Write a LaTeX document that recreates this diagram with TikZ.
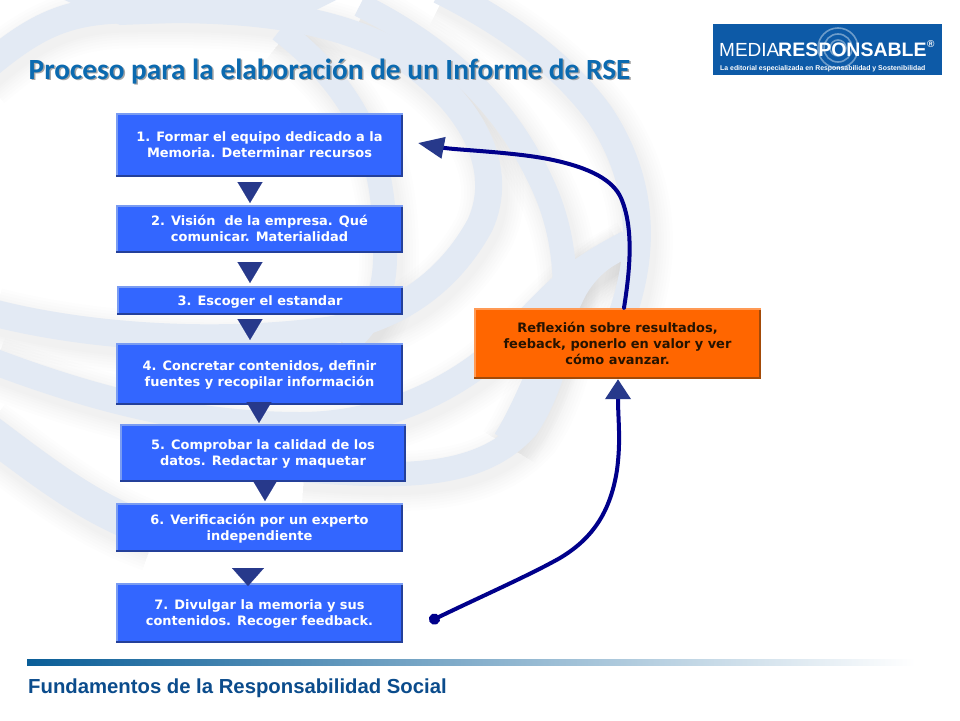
\documentclass[tikz,border=0pt]{standalone}
\usepackage{fontspec}
\setmainfont{DejaVu Sans}
\newfontfamily\titlefont{Carlito}
\newfontfamily\footfont{Liberation Sans}
\usetikzlibrary{arrows.meta,calc}
\definecolor{bandc}{HTML}{E3EAF4}
\definecolor{boxblue}{HTML}{3366FF}
\definecolor{boxlight}{HTML}{7A9CF2}
\definecolor{boxdark}{HTML}{24409A}
\definecolor{boxor}{HTML}{FF6600}
\definecolor{orlight}{HTML}{FF9A55}
\definecolor{ordark}{HTML}{A34A08}
\definecolor{tipc}{HTML}{27398B}
\definecolor{navyc}{HTML}{00008B}
\definecolor{titlec}{HTML}{0B6AB0}
\definecolor{footc}{HTML}{0B4C8C}
\definecolor{logoc}{HTML}{0D5AA7}
\newcommand{\bandshadow}[2]{%
  \foreach \k in {36,30,24,18,13,8,4}{\draw[line width=#1+\k,black,opacity=.007,shift={(4,7)},line cap=butt] #2;}}
\newcommand{\bandfill}[2]{\draw[line width=#1,bandc,line cap=butt] #2;}
\newcommand{\boxtext}[1]{\raisebox{-1.3pt}[\height][\depth]{\begin{tabular}{@{}c@{}}#1\end{tabular}}}
\tikzset{
  x=1pt,y=-1pt,
  bevelbox/.style n args={5}{
    minimum width=#1,minimum height=#2,inner sep=0pt,fill=#3,
    font=\fontsize{12.95}{16}\selectfont\bfseries,
    path picture={
      \fill[#5] (path picture bounding box.south west) rectangle ([yshift=2.5pt]path picture bounding box.south east);
      \fill[#5] (path picture bounding box.north east) rectangle ([xshift=-2.5pt]path picture bounding box.south east);
      \fill[#4] (path picture bounding box.north west) rectangle ([yshift=-2pt]path picture bounding box.north east);
      \fill[#4] (path picture bounding box.north west) rectangle ([xshift=2pt,yshift=2.5pt]path picture bounding box.south west);
    }},
  stepblue/.style 2 args={bevelbox={#1}{#2}{boxblue}{boxlight}{boxdark},text=white},
  steporange/.style 2 args={bevelbox={#1}{#2}{boxor}{orlight}{ordark},text=black!85!orange},
  flowarrow/.style={line width=0.1pt,tipc,-{Triangle[length=21pt,width=25pt,fill=tipc]}},
  loopline/.style={line width=4pt,navyc,line cap=round},
}
\begin{document}
\begin{tikzpicture}
\useasboundingbox (0,0) rectangle (960,720);
\fill[white] (0,0) rectangle (960,720);
\begin{scope}
\clip (0,0) rectangle (960,720);
% background swirl paths
\def\pa{(-20,425) .. controls (40,470) and (90,510) .. (150,530)}
\def\pb{(-10,360) .. controls (90,398) and (190,425) .. (300,425) .. controls (370,425) and (430,400) .. (475,368) .. controls (520,335) and (550,290) .. (590,265) .. controls (605,255) and (615,250) .. (628,243)}
\def\pc{(-10,312) .. controls (90,338) and (220,345) .. (330,330) .. controls (400,318) and (450,280) .. (480,225) .. controls (505,170) and (475,105) .. (400,55) .. controls (320,10) and (220,8) .. (120,10) .. controls (60,12) and (30,30) .. (-20,72)}
\def\pd{(345,345) .. controls (375,320) and (386,290) .. (385,250) .. controls (385,170) and (370,100) .. (280,30)}
\def\pe{(300,470) .. controls (400,478) and (480,480) .. (527,427) .. controls (565,370) and (580,270) .. (545,190) .. controls (510,110) and (450,50) .. (360,5)}
\def\pf{(505,440) .. controls (530,400) and (550,340) .. (575,290) .. controls (585,272) and (600,258) .. (620,248)}
\def\pg{(610,345) .. controls (645,270) and (650,190) .. (600,115) .. controls (560,60) and (500,20) .. (440,-10)}
\foreach \w/\p in {34/\pa,26/\pb,27/\pc,24/\pd,24/\pe,24/\pf,28/\pg}{\bandshadow{\w}{\p}}
\bandfill{34}{\pa}
\bandfill{26}{\pb}
\bandfill{27}{\pc}
\bandfill{24}{\pd}
\bandfill{24}{\pe}
\bandfill{24}{\pf}
\bandfill{28}{\pg}
\fill[bandc] (60,-2) -- (340,-2) -- (300,18) -- (120,25) -- cycle;
\end{scope}
% title
\node[anchor=base west,inner sep=0pt,gray!70,font=\fontsize{29.3}{32}\titlefont\bfseries] (titleshadow) at (30,80.5) {Proceso para la elaboración de un Informe de RSE};
\node[anchor=base west,inner sep=0pt,titlec,font=\fontsize{29.3}{32}\titlefont\bfseries] (title) at (28.5,79) {Proceso para la elaboración de un Informe de RSE};
% logo
\fill[logoc] (713,24) rectangle (942,75);
\begin{scope}
\clip (713,24) rectangle (942,75);
\foreach \r in {8,14,20}{\draw[white,opacity=.4,line width=1.6pt] (838,48) circle (\r);}
\end{scope}
\node[anchor=base west,inner sep=0pt,white,font=\fontsize{19}{20}\footfont] (logoa) at (719,56) {MEDIA};
\node[anchor=base west,inner sep=0pt,white,font=\fontsize{19.5}{20}\footfont\bfseries] (logob) at (778,56) {RESPONSABLE};
\node[anchor=base west,inner sep=0pt,white,font=\fontsize{10}{11}\footfont\bfseries] (logor) at (927,47) {®};
\node[anchor=base west,inner sep=0pt,white,font=\fontsize{6.9}{8}\footfont\bfseries] (logoc) at (720,70) {La editorial especializada en Responsabilidad y Sostenibilidad};
% boxes
\node[stepblue={287}{64}] (s1) at (259.5,145) {\boxtext{1. Formar el equipo dedicado a la\\Memoria. Determinar recursos}};
\node[stepblue={287}{48}] (s2) at (259.5,229) {\boxtext{2. Visión~ de la empresa. Qué\\comunicar. Materialidad}};
\node[stepblue={286}{29}] (s3) at (260,300.5) {\boxtext{3. Escoger el estandar}};
\node[stepblue={287}{62}] (s4) at (259.5,374) {\boxtext{4. Concretar contenidos, definir\\fuentes y recopilar información}};
\node[stepblue={286}{58}] (s5) at (263,453) {\boxtext{5. Comprobar la calidad de los\\datos. Redactar y maquetar}};
\node[stepblue={287}{49}] (s6) at (259.5,527.5) {\boxtext{6. Verificación por un experto\\independiente}};
\node[stepblue={287}{60}] (s7) at (259.5,613) {\boxtext{7. Divulgar la memoria y sus\\contenidos. Recoger feedback.}};
\node[steporange={287}{71}] (r) at (617.5,343.5) {\boxtext{Reflexión sobre resultados,\\feeback, ponerlo en valor y ver\\cómo avanzar.}};
% flow arrows
\coordinate (t12) at (250,203);
\coordinate (t23) at (250,283);
\coordinate (t34) at (250,340);
\coordinate (t45) at (259,423);
\coordinate (t56) at (265,501);
\coordinate (t67) at (248,586);
\draw[flowarrow,shorten <=5pt] (s1.south -| t12) -- (t12);
\draw[flowarrow,shorten <=9pt] (s2.south -| t23) -- (t23);
\draw[flowarrow,shorten <=4.5pt] (s3.south -| t34) -- (t34);
\draw[flowarrow] (s4.south -| t45) -- (t45);
\draw[flowarrow] (s5.south -| t56) -- (t56);
\draw[line width=0.1pt,tipc,shorten <=16pt,-{Triangle[length=18pt,width=32pt,fill=tipc]}] (s6.south -| t67) -- (t67);
% feedback curves
\coordinate (fbtip) at (418,143);
\coordinate (dot) at (429.5,621.5);
\draw[loopline,-{Triangle[length=26pt,width=21pt,fill=tipc,color=tipc]}] (r.north -| 624,0)
  .. controls (630,270) and (634,228) .. (621,198)
  .. controls (613,180) and (590,168) .. (553,160)
  .. controls (516,152) and (455,150) .. (fbtip);
\draw[loopline,{Circle[length=11pt]}-{Triangle[length=20pt,width=25pt,fill=tipc,color=tipc]}] (dot)
  .. controls (480,597) and (530,575) .. (560,558)
  .. controls (590,540) and (610,515) .. (617,470)
  .. controls (621,440) and (618,420) .. (r.south -| 618,0);
% footer
\shade[left color=footc!90!cyan,right color=white] (27,659.5) rectangle (915,665);
\node[anchor=base west,inner sep=0pt,footc,font=\fontsize{20.3}{22}\footfont\bfseries] (foot) at (28,693) {Fundamentos de la Responsabilidad Social};
\end{tikzpicture}
\end{document}
